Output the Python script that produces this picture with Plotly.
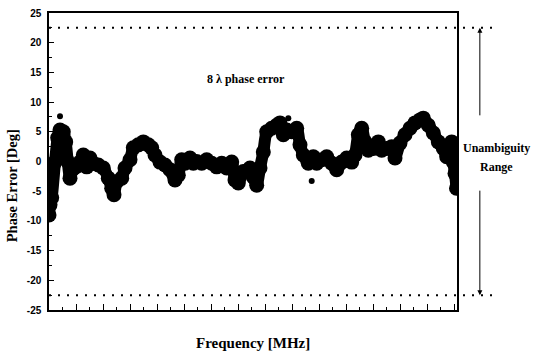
import plotly.graph_objects as go

# Frequency (arbitrary units across the band, no labels in the original) and phase error [deg]
freq = [0, 1, 2.7, 6, 8.7, 11, 14.3, 16.7, 18.7, 21, 23.3, 26.7, 31, 34.3, 37.7, 41, 44.3,
        49.3, 54.3, 59.3, 62.7, 65, 67.7, 72.7, 76, 81, 84.3, 89.3, 94.3, 99.3, 102.7, 106,
        111, 116, 121, 126, 129.3, 132.7, 136, 141, 144.3, 147.7, 152.7, 157.7, 162.7,
        167.7, 172.7, 177.7, 182.7, 186, 189.3, 194.3,
        201, 204.3, 207.7, 211, 214.3, 217.7, 222.7, 227.7, 231, 234.3, 237.7, 242.7, 247.7,
        251, 254.3, 259.3, 264.3, 267.7, 272.7, 277.7, 282.7, 287.7, 292.7, 297.7, 302.7,
        306, 309.3, 312.7, 316, 319.3, 324.3, 329.3, 332.7, 337.7, 342.7, 346, 351, 356,
        361, 366, 371, 374.3, 379.3, 384.3, 389.3, 394.3, 397.7, 401, 402.7, 404.3, 406,
        407.5]
phase_err = [-9, -7.3, -6.1, -0.1, 4.0, 5.3, 5.0, 3.3, 0, -2.8, -1.4, -0.9, -0.1, 1.1, -0.9,
             0.6, -0.3, -0.6, -1.1, -2.8, -4.5, -5.6, -3.4, -2.8, -1.1, 0.3, 2.3, 2.8, 3.3,
             2.8, 2.3, 1.1, -0.1, -0.6, -1.4, -3.1, -2.3, 0.3, -0.3, 0.6, -0.3, 0, -0.3, 0.3,
             -0.3, -0.9, -0.3, -1.1, -0.1, -3.1, -3.6, -1.7,
             -1.1, -2.6, -4.0, -1.1, 1.6, 5.0, 5.6, 6.1, 6.5, 4.5, 5.3, 5.0, 5.6,
             2.8, 1.1, -0.3, 0.8, -0.3, 0.3, 0.8, -0.3, -1.4, -0.1, 0.6, -0.1,
             1.1, 4.5, 5.6, 3.3, 1.9, 2.2, 3.3, 1.9, 2.2, 2.5, 0.6, 3.1, 4.5,
             5.6, 6.5, 7.0, 7.3, 6.1, 4.8, 3.3, 2.2, 0.8, 2.2, 3.3, -0.1, -2.0,
             -4.5]
outlier_freq = [11, 239.3, 262.7]
outlier_err = [7.6, 7.3, -3.3]
limit = 22.5
y_ticks = [-25, -20, -15, -10, -5, 0, 5, 10, 15, 20, 25]

fig = go.Figure()
fig.add_trace(go.Scatter(x=freq, y=phase_err, mode="lines+markers",
                         line=dict(color="black", width=12, shape="spline", smoothing=0.6),
                         marker=dict(color="black", size=15, line=dict(width=0)),
                         showlegend=False))
fig.add_trace(go.Scatter(x=outlier_freq, y=outlier_err, mode="markers",
                         marker=dict(color="black", size=6), showlegend=False))

# unambiguity limits (dotted)
for yv in (limit, -limit):
    fig.add_shape(type="line", xref="paper", yref="y", x0=0, x1=1.093, y0=yv, y1=yv,
                  line=dict(color="black", width=2, dash="2px,7px"))

serif = "Liberation Serif"
fig.add_annotation(xref="paper", yref="y", x=1.056, y=limit, ax=0, ay=89,
                   axref="pixel", ayref="pixel", showarrow=True, arrowhead=2,
                   arrowsize=1, arrowwidth=1, arrowcolor="black", text="")
fig.add_annotation(xref="paper", yref="y", x=1.056, y=-limit, ax=0, ay=-106,
                   axref="pixel", ayref="pixel", showarrow=True, arrowhead=2,
                   arrowsize=1, arrowwidth=1, arrowcolor="black", text="")
fig.add_annotation(xref="paper", yref="y", x=1.098, y=2.3, text="<b>Unambiguity</b>",
                   xanchor="center", yanchor="middle", showarrow=False,
                   font=dict(family=serif, size=12, color="black"))
fig.add_annotation(xref="paper", yref="y", x=1.098, y=-0.9, text="<b>Range</b>",
                   xanchor="center", yanchor="middle", showarrow=False,
                   font=dict(family=serif, size=12, color="black"))
fig.add_annotation(xref="paper", yref="y", x=0.483, y=13.9, text="<b>8 λ phase error</b>",
                   xanchor="center", yanchor="middle", showarrow=False,
                   font=dict(family=serif, size=12, color="black"))
fig.add_annotation(xref="paper", yref="y", x=-0.0907, y=-4, text="<b>Phase Error [Deg]</b>",
                   xanchor="center", yanchor="middle", textangle=-90, showarrow=False,
                   font=dict(family=serif, size=14.5, color="black"))
fig.add_annotation(xref="paper", yref="paper", x=0.5, y=-0.111, xanchor="center",
                   yanchor="middle", text="<b>Frequency [MHz]</b>", showarrow=False,
                   font=dict(family=serif, size=15, color="black"))

fig.update_layout(
    width=533, height=353,
    margin=dict(l=49, r=76, t=13, b=43, autoexpand=False),
    paper_bgcolor="white", plot_bgcolor="white",
    xaxis=dict(range=[0, 408], showgrid=False, zeroline=False, showticklabels=False,
               automargin=False,
               ticks="inside", tick0=0, dtick=27, ticklen=6, tickcolor="black",
               showline=True, linecolor="black", linewidth=1.5, mirror=True,
               minor=dict(ticks="inside", dtick=13.5, ticklen=3, tickcolor="black")),
    yaxis=dict(range=[-25, 25], showgrid=False, zeroline=False, automargin=False,
               tickvals=y_ticks, ticktext=[str(v) for v in y_ticks],
               ticks="inside", ticklen=5, tickcolor="black",
               showline=True, linecolor="black", linewidth=1.5, mirror=True,
               ticklabelstandoff=4,
               tickfont=dict(family="Liberation Sans", size=10, color="black", weight="bold"),
               minor=dict(ticks="inside", dtick=2.5, ticklen=3, tickcolor="black")),
)

fig.write_html("out.html")
